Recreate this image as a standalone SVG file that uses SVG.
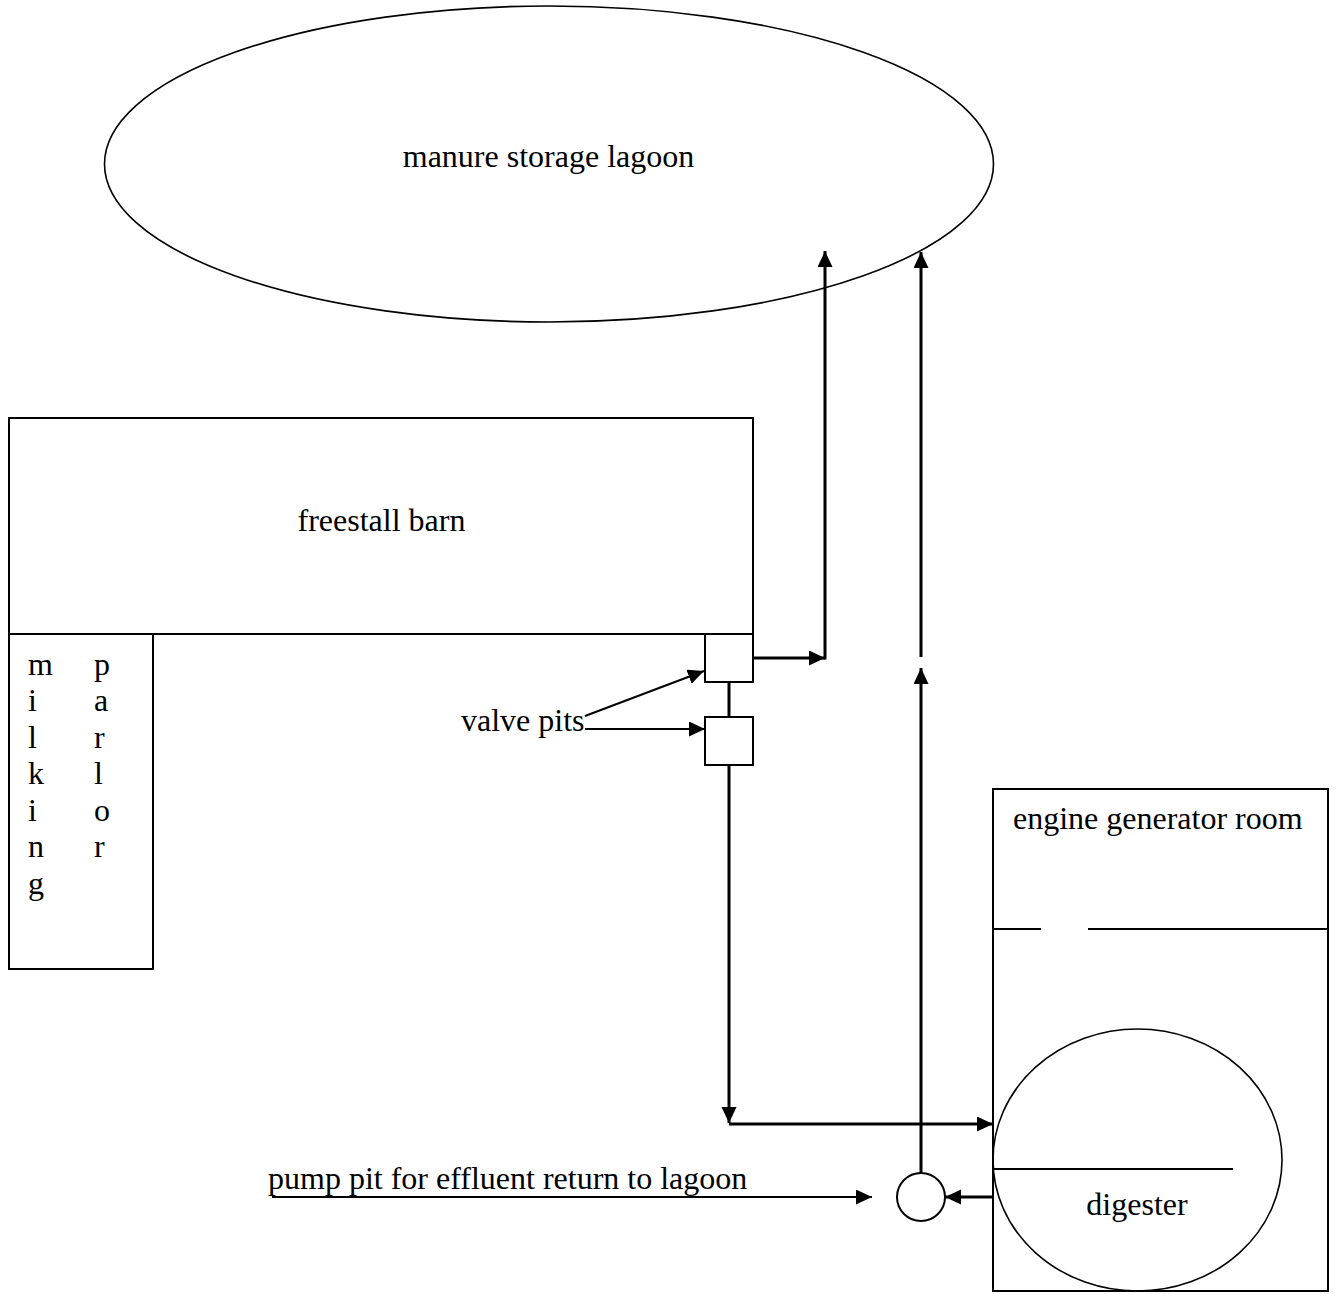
<svg xmlns="http://www.w3.org/2000/svg" width="1334" height="1294" viewBox="0 0 1334 1294">
<style>
  .box { fill: none; stroke: #000; stroke-width: 2; }
  .thin { fill: none; stroke: #000; stroke-width: 1.6; }
  .conn { fill: none; stroke: #000; stroke-width: 3; }
  .conn2 { fill: none; stroke: #000; stroke-width: 2; }
  text { font-family: "Liberation Serif", "Times New Roman", serif; font-size: 32px; fill: #000; }
</style>
<defs>
  <marker id="ah" markerUnits="userSpaceOnUse" markerWidth="16" markerHeight="16" refX="16" refY="7.5" orient="auto">
    <path d="M0,0 L16,7.5 L0,15 z" fill="#000"/>
  </marker>
</defs>
<rect width="1334" height="1294" fill="#fff"/>

<g id="lagoon">
  <ellipse cx="549" cy="164" rx="444.5" ry="158" class="thin"/>
  <text x="548.5" y="167" text-anchor="middle">manure storage lagoon</text>
</g>

<g id="freestall-barn">
  <rect x="9" y="418" width="744" height="216" class="box"/>
  <text x="381.5" y="531" text-anchor="middle">freestall barn</text>
</g>

<g id="milking-parlor">
  <rect x="9" y="634" width="144" height="335" class="box"/>
  <text x="28" y="675">m</text>
  <text x="28" y="711">i</text>
  <text x="28" y="748">l</text>
  <text x="28" y="784">k</text>
  <text x="28" y="821">i</text>
  <text x="28" y="857">n</text>
  <text x="28" y="894">g</text>
  <text x="94" y="675">p</text>
  <text x="94" y="711">a</text>
  <text x="94" y="748">r</text>
  <text x="94" y="784">l</text>
  <text x="94" y="821">o</text>
  <text x="94" y="857">r</text>
</g>

<g id="valve-pit-1">
  <rect x="705" y="634" width="48" height="48" class="box"/>
</g>
<g id="valve-pit-2">
  <rect x="705" y="717" width="48" height="48" class="box"/>
</g>

<g id="valve-pits-label">
  <text x="461" y="731">valve pits</text>
</g>

<g id="engine-generator-room">
  <rect x="993" y="789" width="335" height="502" class="box"/>
  <line x1="993" y1="929" x2="1041" y2="929" class="box"/>
  <line x1="1088" y1="929" x2="1328" y2="929" class="box"/>
  <text x="1013" y="829">engine generator room</text>
</g>

<g id="digester">
  <ellipse cx="1137.5" cy="1160" rx="144.5" ry="131" class="thin"/>
  <line x1="993" y1="1169" x2="1233" y2="1169" class="box"/>
  <text x="1137" y="1215" text-anchor="middle">digester</text>
</g>

<g id="pump-pit">
  <circle cx="921" cy="1197" r="24" class="box"/>
</g>

<g id="pump-pit-label">
  <text x="268" y="1189">pump pit for effluent return to lagoon</text>
</g>

<g id="connectors">
  <line x1="753" y1="658" x2="825" y2="658" class="conn" marker-end="url(#ah)"/>
  <line x1="825" y1="659.5" x2="825" y2="251" class="conn" marker-end="url(#ah)"/>
  <line x1="729" y1="682" x2="729" y2="717" class="conn"/>
  <line x1="729" y1="765" x2="729" y2="1123" class="conn" marker-end="url(#ah)"/>
  <line x1="729" y1="1124" x2="993" y2="1124" class="conn" marker-end="url(#ah)"/>
  <line x1="921" y1="1173" x2="921" y2="668" class="conn" marker-end="url(#ah)"/>
  <line x1="921" y1="657" x2="921" y2="252" class="conn" marker-end="url(#ah)"/>
  <line x1="993" y1="1197" x2="945" y2="1197" class="conn" marker-end="url(#ah)"/>
  <line x1="272" y1="1197" x2="872" y2="1197" class="conn2" marker-end="url(#ah)"/>
  <line x1="585" y1="716" x2="704" y2="671" class="conn2" marker-end="url(#ah)"/>
  <line x1="585" y1="729" x2="705" y2="729" class="conn2" marker-end="url(#ah)"/>
</g>
</svg>
